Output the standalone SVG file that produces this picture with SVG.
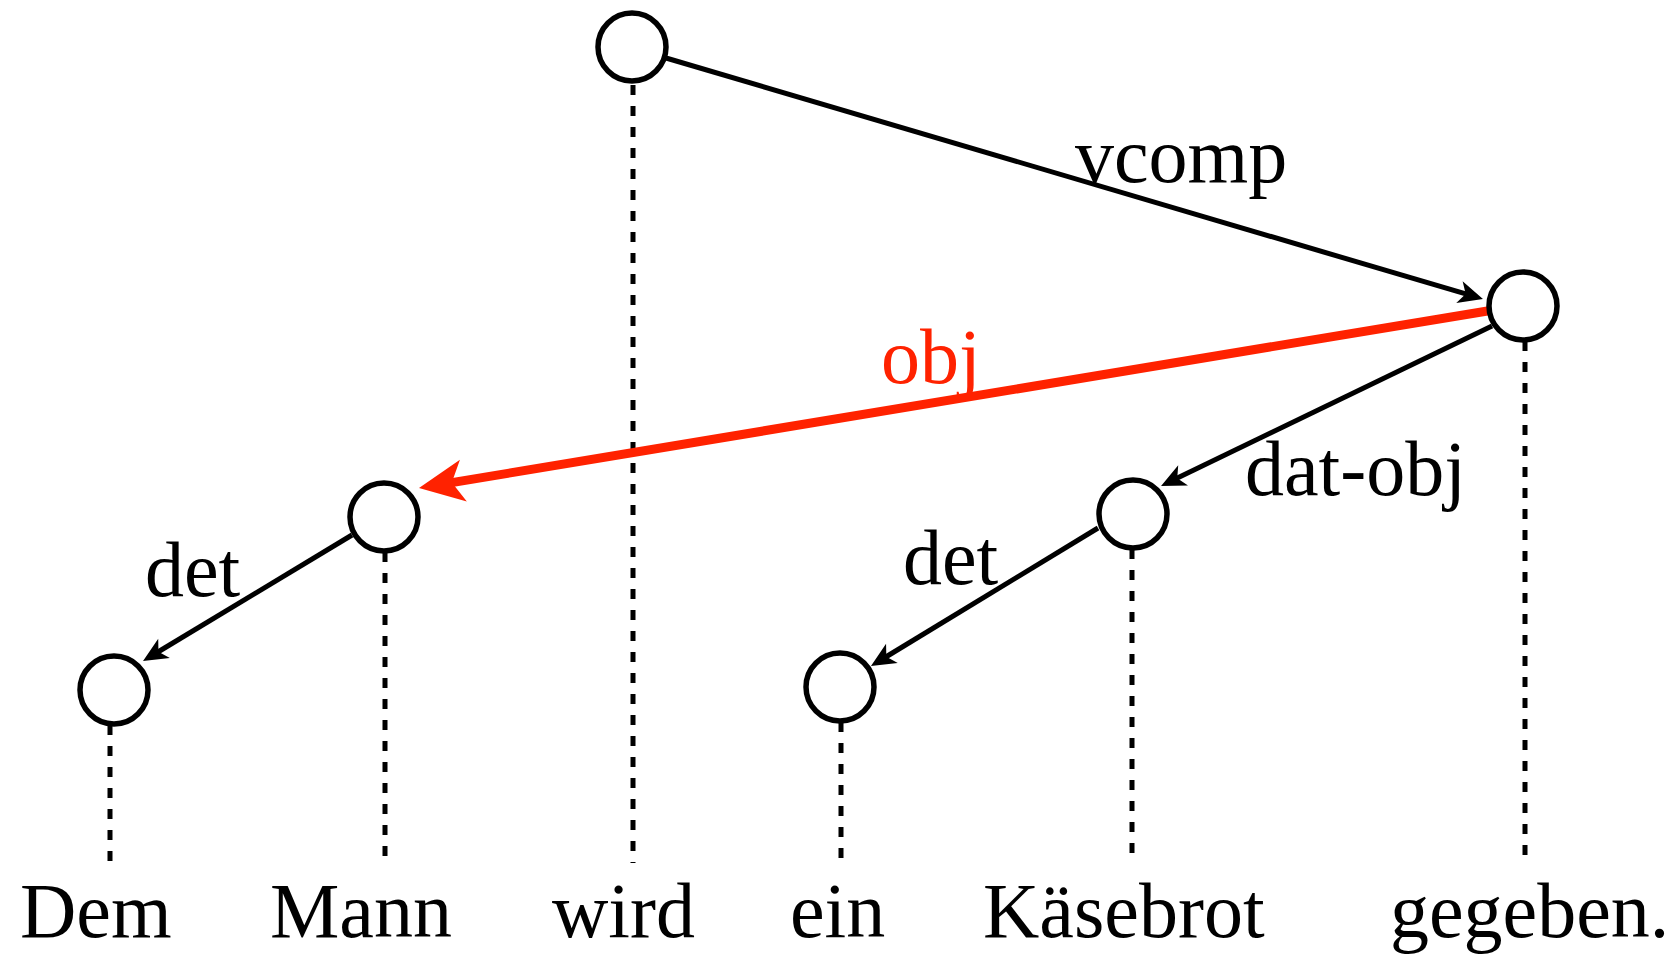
<svg xmlns="http://www.w3.org/2000/svg" width="1679" height="960" viewBox="0 0 1679 960">
  <style>
    .node circle { fill: #ffffff; stroke: #000000; stroke-width: 5.5; }
    .proj { stroke: #000000; stroke-width: 5; stroke-dasharray: 10 11; fill: none; }
    .edge { stroke: #000000; stroke-width: 5; fill: none; }
    .edge-red { stroke: #ff2200; stroke-width: 9; fill: none; }
    .word, .lbl { font-family: "Liberation Serif", "Times New Roman", serif; font-size: 78px; fill: #000000; }
    .lbl-red { fill: #ff2200; }
  </style>
  <defs>
    <marker id="arrow" viewBox="-6 -3 6.5 6" refX="-2.7" refY="0" markerWidth="6.5" markerHeight="6" markerUnits="strokeWidth" orient="auto">
      <path d="M0,0 L-4.9,-2.25 L-3.6,0 L-4.9,2.25 Z" fill="#000000"/>
    </marker>
    <marker id="arrow-red" viewBox="-6 -3 6.5 6" refX="-2.67" refY="0" markerWidth="6.5" markerHeight="6" markerUnits="strokeWidth" orient="auto">
      <path d="M0,0 L-5,-2.35 L-3.7,0 L-5,2.35 Z" fill="#ff2200"/>
    </marker>
  </defs>

  <g id="projections">
    <line class="proj" x1="110" y1="725" x2="110" y2="863"/>
    <line class="proj" x1="385" y1="552" x2="385" y2="863"/>
    <line class="proj" x1="633" y1="85" x2="633" y2="863"/>
    <line class="proj" x1="841" y1="722" x2="841" y2="863"/>
    <line class="proj" x1="1132" y1="549" x2="1132" y2="863"/>
    <line class="proj" x1="1525" y1="341" x2="1525" y2="863"/>
  </g>

  <g id="connectors">
    <line id="e-vcomp" class="edge" x1="666" y1="58" x2="1470" y2="295.2" marker-end="url(#arrow)"/>
    <line id="e-obj" class="edge-red" x1="1489" y1="310.7" x2="442.7" y2="484.1" marker-end="url(#arrow-red)"/>
    <line id="e-datobj" class="edge" x1="1492" y1="326" x2="1173.2" y2="480.1" marker-end="url(#arrow)"/>
    <line id="e-det2" class="edge" x1="1098" y1="528" x2="882.5" y2="659" marker-end="url(#arrow)"/>
    <line id="e-det1" class="edge" x1="352" y1="535" x2="154.6" y2="654" marker-end="url(#arrow)"/>
    <text class="lbl" x="1075" y="182">vcomp</text>
    <text class="lbl lbl-red" x="881" y="383">obj</text>
    <text class="lbl" x="1245" y="495">dat-obj</text>
    <text class="lbl" x="145" y="596">det</text>
    <text class="lbl" x="903" y="584">det</text>
  </g>

  <g id="node-wird" class="node"><circle cx="632" cy="47" r="34"/></g>
  <g id="node-gegeben" class="node"><circle cx="1523" cy="306" r="34"/></g>
  <g id="node-mann" class="node"><circle cx="384" cy="517" r="34"/></g>
  <g id="node-kaesebrot" class="node"><circle cx="1133" cy="514" r="34"/></g>
  <g id="node-dem" class="node"><circle cx="114" cy="690" r="34"/></g>
  <g id="node-ein" class="node"><circle cx="840" cy="687" r="34"/></g>

  <g id="words">
    <text class="word" x="20" y="937">Dem</text>
    <text class="word" x="270" y="937">Mann</text>
    <text class="word" x="552" y="937">wird</text>
    <text class="word" x="790" y="937">ein</text>
    <text class="word" x="983" y="937">Käsebrot</text>
    <text class="word" x="1390" y="937">gegeben.</text>
  </g>
</svg>
